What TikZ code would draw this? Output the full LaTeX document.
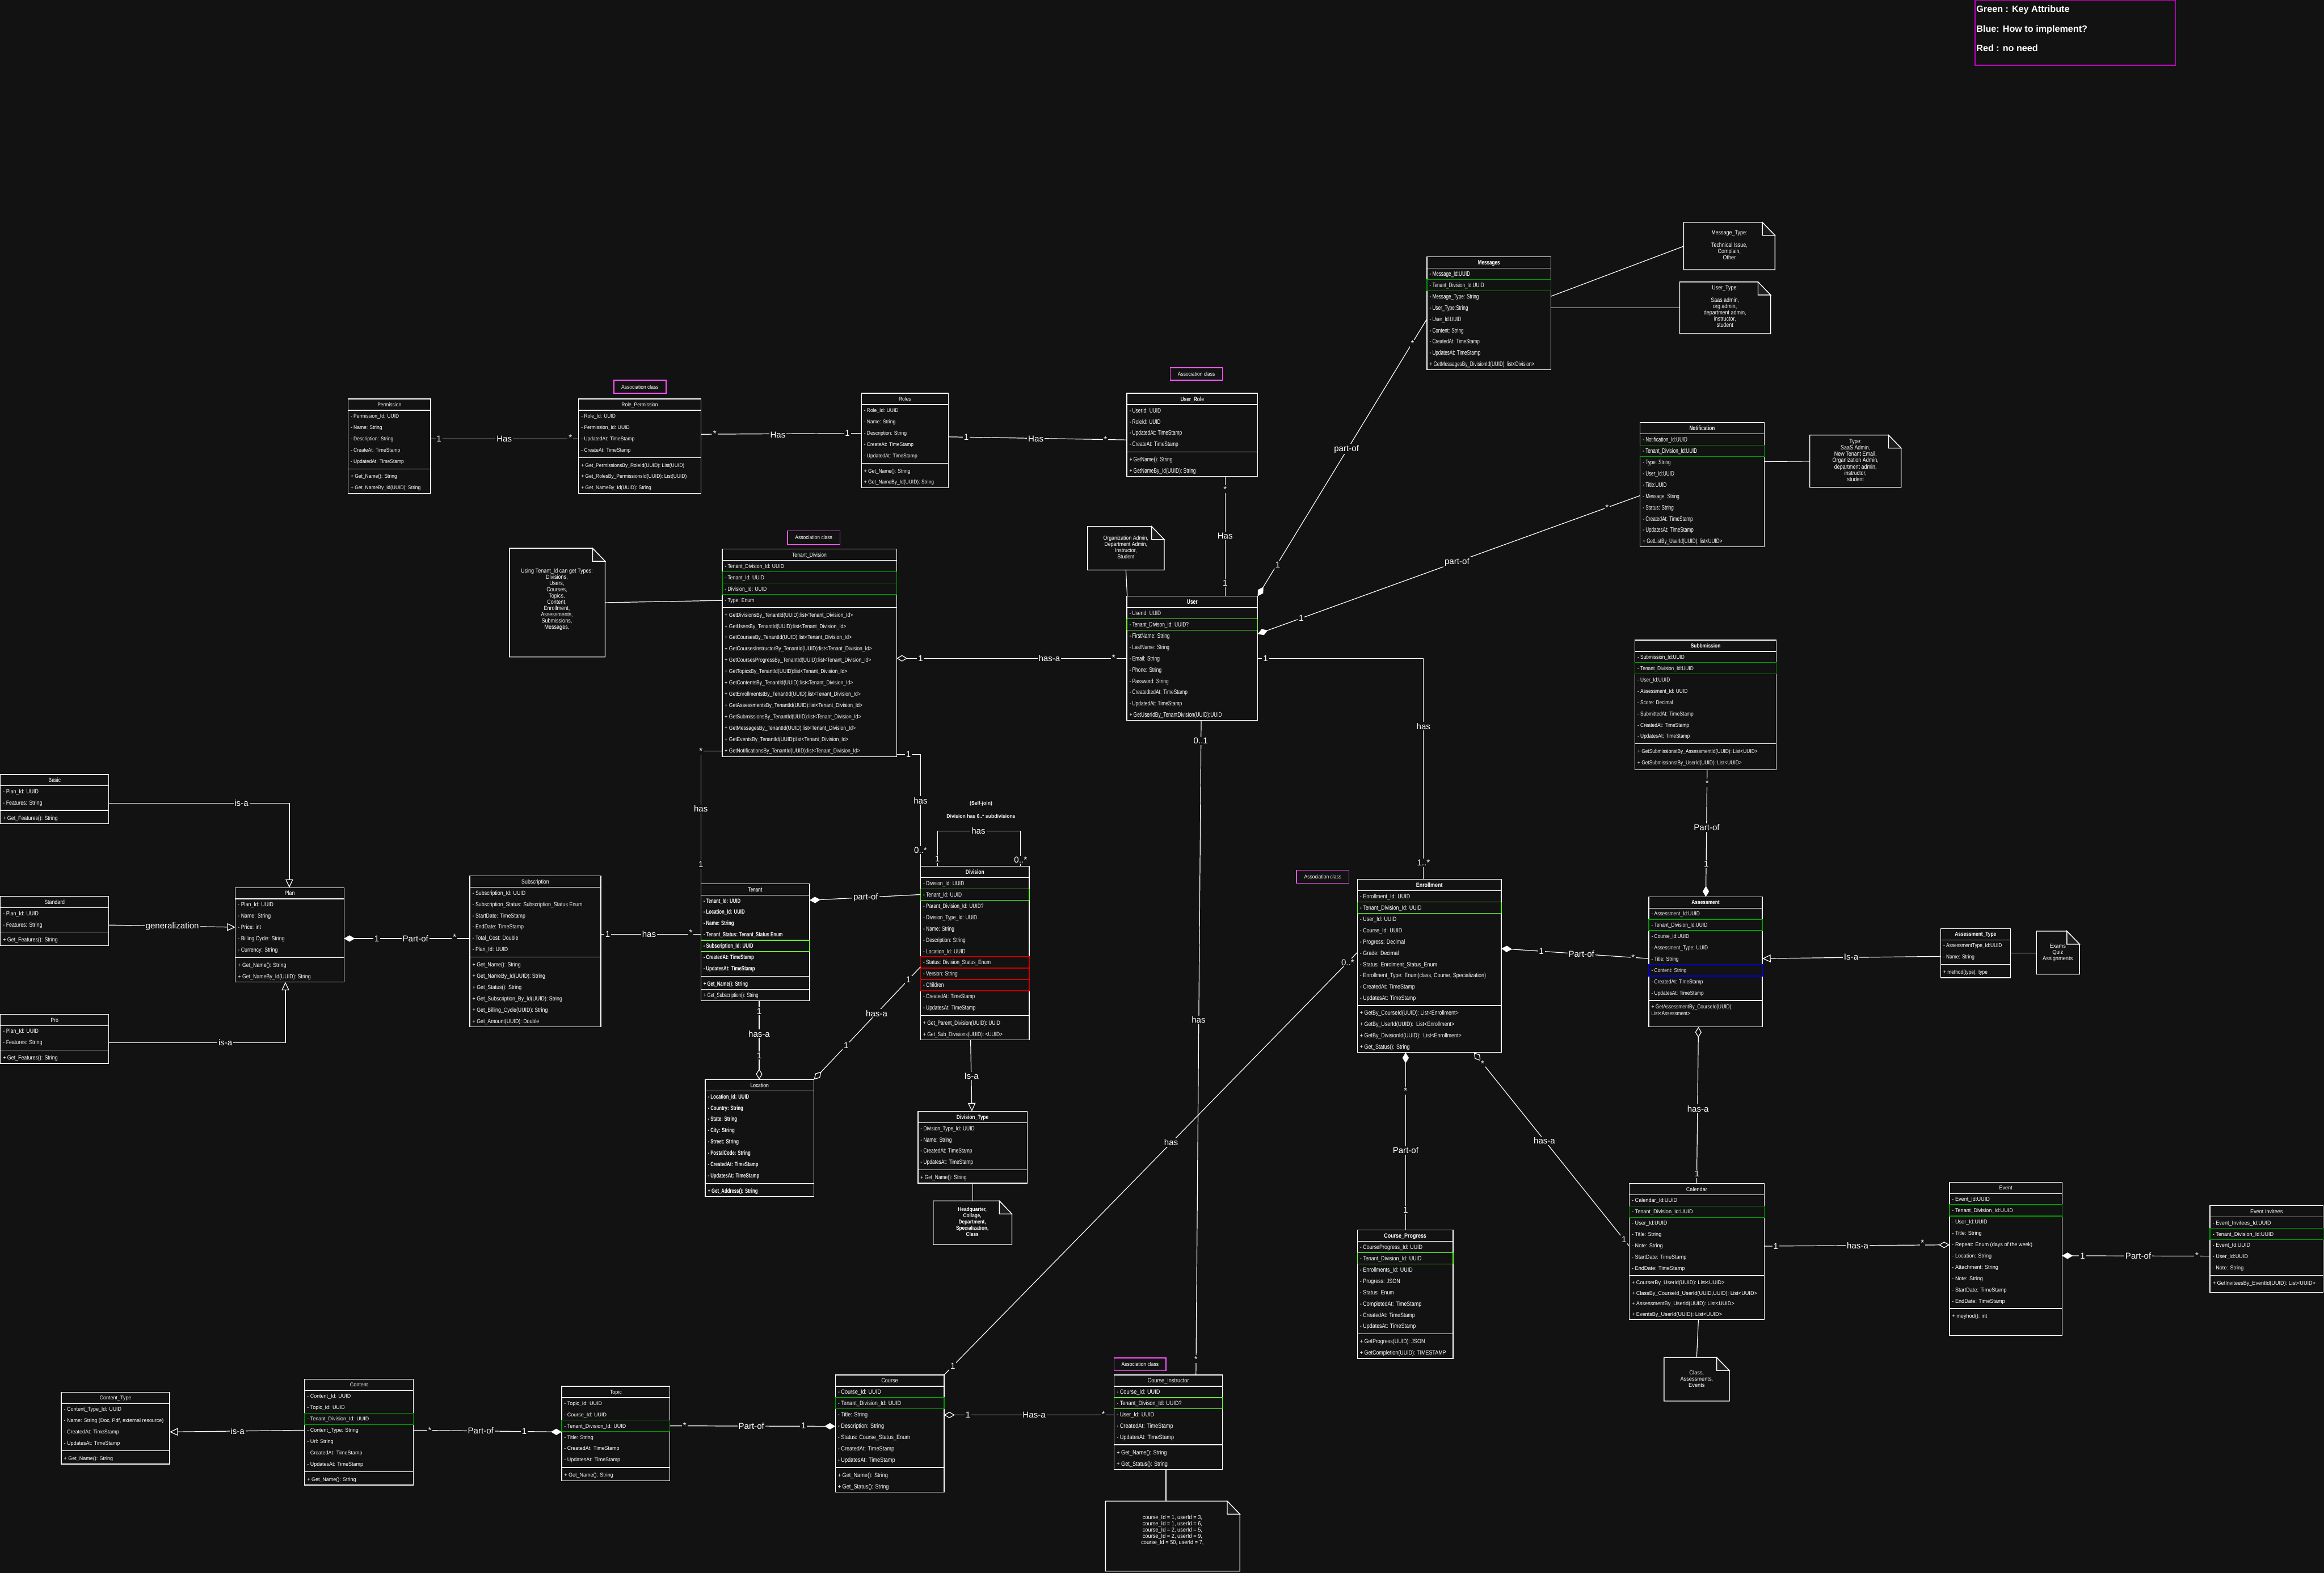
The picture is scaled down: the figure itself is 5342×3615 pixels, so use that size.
\documentclass[tikz,border=0pt]{standalone}
\usepackage{fontspec}
\setmainfont{Liberation Sans}
\usepackage{graphicx}
\usetikzlibrary{arrows.meta}
\definecolor{bg}{HTML}{121212}
\definecolor{grnD}{HTML}{00A000}
\definecolor{grnL}{HTML}{66FF33}
\definecolor{redR}{HTML}{CC0000}
\definecolor{bluB}{HTML}{0000DD}
\definecolor{magA}{HTML}{FF55FF}
\definecolor{magL}{HTML}{CC00CC}
\definecolor{foldc}{HTML}{1E1E1E}
\newcommand\FS{4}
\newcommand\SX{1}
\newcommand\TF{\bfseries}
\newcommand\RF{}
\newcommand\curR{26}
\newcommand\GG{9}
\newcommand\cury{0}
\newcommand\TX[1]{\scalebox{\SX}[1]{\fontsize{\FS pt}{\FS pt}\selectfont #1}}
\newcommand\setc[5]{\gdef\FS{#1}\gdef\SX{#2}\gdef\TF{#3}\gdef\RF{#4}\gdef\GG{#5}}
\tikzset{
  txt/.style={text=white, inner sep=0pt, outer sep=0pt},
  clsbox/.style={draw=white, line width=0.5pt, inner sep=0pt, outer sep=0pt, anchor=north west},
  cline/.style={draw=white, line width=0.5pt},
  hlg/.style={draw=grnD, line width=0.5pt},
  hlh/.style={draw=grnL, line width=0.5pt},
  hlr/.style={draw=redR, line width=0.5pt},
  hlb/.style={draw=bluB, line width=0.5pt},
  cn/.style={draw=white, line width=0.45pt},
  lbl/.style={text=white, fill=bg, inner sep=0.7pt, outer sep=0pt, font=\fontsize{5.6pt}{5.6pt}\selectfont},
  assocbox/.style={draw=magA, line width=0.5pt, inner sep=0pt, outer sep=0pt, text=white},
  comp/.style={arrows={Diamond[length=7pt,width=4.2pt]-}},
  compe/.style={arrows={-Diamond[length=7pt,width=4.2pt]}},
  agg/.style={arrows={Diamond[open,length=7pt,width=4.2pt]-}},
  agge/.style={arrows={-Diamond[open,length=7pt,width=4.2pt]}},
  gen/.style={arrows={-Triangle[open,length=5.4pt,width=5pt]}}
}
\newcommand\cls[8]{%
  \node[clsbox, minimum width={#4*0.01cm}, minimum height={#5*0.01cm}] (#1) at (#2,#3) {};
  \draw[cline] (#2,#3+#6) -- ++(#4,0);
  \node[txt, anchor=base] (#1-t) at ({#2+#4/2}, {#3+#6/2+1.26*\FS}) {\TX{\TF #7}};
  \pgfmathsetmacro\tmpy{#3+#6}\xdef\cury{\tmpy}\gdef\curR{26}%
  \foreach \rk/\rt [count=\ri] in {#8}{%
    \if\rk s%
      \draw[cline] (#2,\cury+\GG/2) -- ++(#4,0);%
      \pgfmathsetmacro\tmpy{\cury+\GG}\xdef\cury{\tmpy}%
    \else\if\rk l%
      \draw[cline] (#2,\cury) -- ++(#4,0);%
    \else\if\rk m%
      \xdef\curR{\rt}%
    \else
      \pgfmathsetmacro\tmpb{\cury+\curR}%
      \if\rk g\draw[hlg] (#2,\cury) rectangle (#2+#4,\tmpb);\fi
      \if\rk h\draw[hlh] (#2,\cury) rectangle (#2+#4,\tmpb);\fi
      \if\rk r\draw[hlr] (#2,\cury) rectangle (#2+#4,\tmpb);\fi
      \if\rk b\draw[hlb] (#2,\cury) rectangle (#2+#4,\tmpb);\fi
      \node[txt, anchor=base west] (#1-\ri) at ({#2+6}, {\cury+\curR/2+1.26*\FS}) {\TX{\RF\rt}};%
      \xdef\cury{\tmpb}%
    \fi\fi\fi
  }%
}
\newcommand\note[5]{%
  \node[inner sep=0pt, outer sep=0pt, minimum width={(#4-#2)*0.01cm}, minimum height={(#5-#3)*0.01cm}, anchor=north west] (#1) at (#2,#3) {};
  \draw[cline] (#2,#3) -- (#4-29,#3) -- (#4,#3+30) -- (#4,#5) -- (#2,#5) -- cycle;
  \draw[cline, fill=foldc] (#4-29,#3) -- (#4-29,#3+30) -- (#4,#3+30) -- cycle;
}
\newcommand\ntext[7]{%
  \node[txt] (#1) at (#2,#3) {\scalebox{#5}[1]{#7\fontsize{#4pt}{4.1pt}\selectfont\begin{tabular}{@{}c@{}}#6\end{tabular}}};
}
\newcommand\assoc[5]{%
  \node[assocbox, minimum width={(#4-#2)*0.01cm}, minimum height={(#5-#3)*0.01cm}] (#1) at ({(#2+#4)/2},{(#3+#5)/2}) {\scalebox{0.88}[1]{\fontsize{3.6pt}{3.6pt}\selectfont Association class}};
}
\newcounter{lbc}
\newcommand\lab[3]{\stepcounter{lbc}\edef\labname{lab\arabic{lbc}}\node[lbl] (\labname) at (#1,#2) {#3};}
\begin{document}
\begin{tikzpicture}[x=0.01cm, y=-0.01cm]
\path[fill=bg, use as bounding box] (0,0) rectangle (5342,3615);

% ---------- legend ----------
\node[draw=magL, line width=0.5pt, inner sep=0pt, outer sep=0pt, minimum width={461*0.01cm}, minimum height={149*0.01cm}, anchor=north west] (legend) at (4540,1) {};
\node[txt, anchor=base west, font=\bfseries\fontsize{6pt}{6pt}\selectfont] (lg1) at (4543,28.5) {Green : Key Attribute};
\node[txt, anchor=base west, font=\bfseries\fontsize{6pt}{6pt}\selectfont] (lg2) at (4543,73.5) {Blue: How to implement?};
\node[txt, anchor=base west, font=\bfseries\fontsize{6pt}{6pt}\selectfont] (lg3) at (4543,118.5) {Red : no need};

% ---------- association class labels ----------
\assoc{as1}{1411}{874}{1531}{904}
\assoc{as2}{2690}{845}{2810}{874}
\assoc{as3}{1810}{1220}{1931}{1251}
\assoc{as4}{2980}{2000}{3101}{2030}
\assoc{as5}{2561}{3121}{2680}{3150}

% ---------- classes ----------
\setc{3.5}{0.9}{\mdseries}{}{9}
\cls{perm}{800}{917}{190}{217}{26}{Permission}{n/{- Permission\_Id: UUID}, n/{- Name: String}, n/{- Description: String}, n/{- CreateAt: TimeStamp}, n/{- UpdatedAt: TimeStamp}, s/x, n/{+ Get\_Name(): String}, n/{+ Get\_NameBy\_Id(UUID): String}}
\cls{rolep}{1330}{917}{281}{217}{26}{Role\_Permission}{n/{- Role\_Id: UUID}, n/{- Permission\_Id: UUID}, n/{- UpdatedAt: TimeStamp}, n/{- CreateAt: TimeStamp}, s/x, n/{+ Get\_PermissionsBy\_RoleId(UUID): List(UUID)}, n/{+ Get\_RolesBy\_PermissionsId(UUID): List(UUID)}, n/{+ Get\_NameBy\_Id(UUID): String}}
\cls{roles}{1980}{904}{200}{217}{26}{Roles}{n/{- Role\_Id: UUID}, n/{- Name: String}, n/{- Description: String}, n/{- CreateAt: TimeStamp}, n/{- UpdatedAt: TimeStamp}, s/x, n/{+ Get\_Name(): String}, n/{+ Get\_NameBy\_Id(UUID): String}}

\setc{4.2}{0.74}{\bfseries}{}{9}
\cls{urole}{2590}{904}{301}{191}{26}{User\_Role}{n/{- UserId: UUID}, n/{- RoleId: UUID}, n/{- UpdatedAt: TimeStamp}, n/{- CreateAt: TimeStamp}, s/x, n/{+ GetName(): String}, n/{+ GetNameBy\_Id(UUID): String}}
\cls{user}{2590}{1370}{301}{286}{26}{User}{n/{- UserId: UUID}, h/{- Tenant\_Divison\_Id: UUID?}, n/{- FirstName: String}, n/{- LastName: String}, n/{- Email: String}, n/{- Phone: String}, n/{- Password: String}, n/{- CreatedtedAt: TimeStamp}, n/{- UpdatedAt: TimeStamp}, n/{+ GetUserIdBy\_TenantDivision(UUID):UUID}}

\setc{4.2}{0.72}{\bfseries}{}{0}
\cls{msg}{3280}{590}{285}{260}{26}{Messages}{n/{- Message\_Id:UUID}, g/{- Tenant\_Division\_Id:UUID}, n/{- Message\_Type: String}, n/{- User\_Type:String}, n/{- User\_Id:UUID}, n/{- Content: String}, n/{- CreatedAt: TimeStamp}, n/{- UpdatesAt: TimeStamp}, n/{+ GetMessagesBy\_DivisionId(UUID): list<Division>}}
\cls{notif}{3770}{971}{285}{286}{26}{Notification}{n/{- Notification\_Id:UUID}, g/{- Tenant\_Division\_Id:UUID}, n/{- Type: String}, n/{- User\_Id:UUID}, n/{- Title:UUID}, n/{- Message: String}, n/{- Status: String}, n/{- CreatedAt: TimeStamp}, n/{- UpdatesAt: TimeStamp}, n/{+ GetListBy\_UserId(UUID): list<UUID>}}

\setc{3.8}{0.84}{\mdseries}{}{8}
\cls{td}{1660}{1262}{401}{477}{26}{Tenant\_Division}{n/{- Tenant\_Division\_Id: UUID}, g/{- Tenant\_Id: UUID}, g/{- Division\_Id: UUID}, n/{- Type: Enum}, s/x, n/{+ GetDivisionsBy\_TenantId(UUID):list<Tenant\_Division\_Id>}, n/{+ GetUsersBy\_TenantId(UUID):list<Tenant\_Division\_Id>}, n/{+ GetCoursesBy\_TenantId(UUID):list<Tenant\_Division\_Id>}, n/{+ GetCoursesInstructorBy\_TenantId(UUID):list<Tenant\_Division\_Id>}, n/{+ GetCoursesProgressBy\_TenantId(UUID):list<Tenant\_Division\_Id>}, n/{+ GetTopicsBy\_TenantId(UUID):list<Tenant\_Division\_Id>}, n/{+ GetContentsBy\_TenantId(UUID):list<Tenant\_Division\_Id>}, n/{+ GetEnrollmentstBy\_TenantId(UUID):list<Tenant\_Division\_Id>}, n/{+ GetAssessmentsBy\_TenantId(UUID):list<Tenant\_Division\_Id>}, n/{+ GetSubmissionsBy\_TenantId(UUID):list<Tenant\_Division\_Id>}, n/{+ GetMessagesBy\_TenantId(UUID):list<Tenant\_Division\_Id>}, n/{+ GetEventsBy\_TenantId(UUID):list<Tenant\_Division\_Id>}, n/{+ GetNotificationsBy\_TenantId(UUID):list<Tenant\_Division\_Id>}}

\setc{3.9}{0.84}{\mdseries}{}{9}
\cls{basic}{1}{1780}{249}{113}{26}{Basic}{n/{- Plan\_Id: UUID}, n/{- Features: String}, s/x, n/{+ Get\_Features(): String}}
\cls{standard}{1}{2060}{249}{113}{26}{Standard}{n/{- Plan\_Id: UUID}, n/{- Features: String}, s/x, n/{+ Get\_Features(): String}}
\cls{pro}{1}{2331}{249}{113}{26}{Pro}{n/{- Plan\_Id: UUID}, n/{- Features: String}, s/x, n/{+ Get\_Features(): String}}
\cls{plan}{541}{2040}{250}{217}{26}{Plan}{n/{- Plan\_Id: UUID}, n/{- Name: String}, n/{- Price: int}, n/{- Billing Cycle: String}, n/{- Currency: String}, s/x, n/{+ Get\_Name(): String}, n/{+ Get\_NameBy\_Id(UUID): String}}
\cls{subs}{1080}{2013}{301}{347}{26}{Subscription}{n/{- Subscription\_Id: UUID}, n/{- Subscription\_Status: Subscription\_Status Enum}, n/{- StartDate: TimeStamp}, n/{- EndDate: TimeStamp}, n/{- Total\_Cost: Double}, n/{- Plan\_Id: UUID}, s/x, n/{+ Get\_Name(): String}, n/{+ Get\_NameBy\_Id(UUID): String}, n/{+ Get\_Status(): String}, n/{+ Get\_Subscription\_By\_Id(UUID): String}, n/{+ Get\_Billing\_Cycle(UUID): String}, n/{+ Get\_Amount(UUID): Double}}

\setc{4}{0.72}{\bfseries}{\bfseries}{9}
\cls{tenant}{1611}{2031}{250}{269}{26}{Tenant}{n/{- Tenant\_Id: UUID}, n/{- Location\_Id: UUID}, n/{- Name: String}, n/{- Tenant\_Status: Tenant\_Status Enum}, h/{- Subscription\_Id: UUID}, n/{- CreatedAt: TimeStamp}, n/{- UpdatesAt: TimeStamp}, s/x, n/{+ Get\_Name(): String}, l/x, n/{\mdseries + Get\_Subscription(): String}}
\cls{location}{1621}{2481}{250}{269}{26}{Location}{n/{- Location\_Id: UUID}, n/{- Country: String}, n/{- State: String}, n/{- City: String}, n/{- Street: String}, n/{- PostalCode: String}, n/{- CreatedAt: TimeStamp}, n/{- UpdatesAt: TimeStamp}, s/x, n/{+ Get\_Address(): String}}

\setc{4}{0.78}{\bfseries}{}{9}
\cls{division}{2116}{1991}{250}{399}{26}{Division}{n/{- Division\_Id: UUID}, h/{- Tenant\_Id: UUID}, n/{- Parant\_Division\_Id: UUID?}, n/{- Division\_Type\_Id: UUID}, n/{- Name: String}, n/{- Description: String}, n/{- Location\_Id: UUID}, r/{- Status: Division\_Status\_Enum}, r/{- Version: String}, r/{- Children}, n/{- CreatedAt: TimeStamp}, n/{- UpdatesAt: TimeStamp}, s/x, n/{+ Get\_Parent\_Division(UUID): UUID}, n/{+ Get\_Sub\_Divisions(UUID): <UUID>}}
\cls{divtype}{2110}{2554}{251}{165}{26}{Division\_Type}{n/{- Division\_Type\_Id: UUID}, n/{- Name: String}, n/{- CreatedAt: TimeStamp}, n/{- UpdatesAt: TimeStamp}, s/x, n/{+ Get\_Name(): String}}

\setc{4}{0.83}{\bfseries}{}{8}
\cls{enroll}{3120}{2021}{331}{398}{26}{Enrollment}{n/{- Enrollment\_Id: UUID}, h/{- Tenant\_Division\_Id: UUID}, n/{- User\_Id: UUID}, n/{- Course\_Id: UUID}, n/{- Progress: Decimal}, n/{- Grade: Decimal}, n/{- Status: Enrolment\_Status\_Enum}, n/{- Enrollment\_Type: Enum(class, Course, Specialization)}, n/{- CreatedAt: TimeStamp}, n/{- UpdatesAt: TimeStamp}, s/x, n/{+ GetBy\_CourseId(UUID): List<Enrollment>}, n/{+ GetBy\_UserId(UUID):~ List<Enrollment>}, n/{+ GetBy\_DivisionId(UUID):~ List<Enrollment>}, n/{+ Get\_Status(): String}}
\setc{4}{0.83}{\bfseries}{}{9}
\cls{cprog}{3120}{2827}{220}{295}{26}{Course\_Progress}{n/{- CourseProgress\_Id: UUID}, h/{- Tenant\_Division\_Id: UUID}, n/{- Enrollments\_Id: UUID}, n/{- Progress: JSON}, n/{- Status: Enum}, n/{- CompletedAt: TimeStamp}, n/{- CreatedAt: TimeStamp}, n/{- UpdatesAt: TimeStamp}, s/x, n/{+ GetProgress(UUID): JSON}, n/{+ GetCompletion(UUID): TIMESTAMP}}

\setc{3.7}{0.84}{\bfseries}{}{9}
\cls{subm}{3758}{1471}{325}{298}{26}{Subbmission}{n/{- Submission\_Id:UUID}, g/{- Tenant\_Division\_Id:UUID}, n/{- User\_Id:UUID}, n/{- Assessment\_Id: UUID}, n/{- Score: Decimal}, n/{- SubmittedAt: TimeStamp}, n/{- CreatedAt: TimeStamp}, n/{- UpdatesAt: TimeStamp}, s/x, n/{+ GetSubmissionstBy\_AssessmentId(UUID): List<UUID>}, n/{+ GetSubmissionstBy\_UserId(UUID): List<UUID>}}
\cls{assess}{3790}{2061}{261}{299}{26}{Assessment}{n/{- Assessment\_Id:UUID}, g/{- Tenant\_Division\_Id:UUID}, n/{- Course\_Id:UUID}, n/{- Assessment\_Type: UUID}, n/{- Title: String}, b/{- Content: String}, n/{- CreatedAt: TimeStamp}, n/{- UpdatesAt: TimeStamp}, s/x, m/18, n/{+ GetAssessmentBy\_CourseId(UUID):}, m/14, n/{List<Assessment>}}
\cls{atype}{4461}{2134}{160}{113}{26}{Assessment\_Type}{n/{- AssessmentType\_Id:UUID}, n/{- Name: String}, s/x, n/{+ method(type): type}}

\setc{3.6}{0.94}{\mdseries}{}{8}
\cls{calendar}{3745}{2720}{310}{312}{26}{Calendar}{n/{- Calendar\_Id:UUID}, g/{- Tenant\_Division\_Id:UUID}, n/{- User\_Id:UUID}, n/{- Title: String}, n/{- Note: String}, n/{- StartDate: TimeStamp}, n/{- EndDate: TimeStamp}, s/x, m/24, n/{+ CourserBy\_UserId(UUID): List<UUID>}, n/{+ ClassBy\_CourseId\_UserId(UUID,UUID): List<UUID>}, n/{+ AssessmentBy\_UserId(UUID): List<UUID>}, n/{+ EventsBy\_UserId(UUID): List<UUID>}}
\setc{3.6}{0.94}{\mdseries}{}{9}
\cls{event}{4481}{2717}{259}{352}{26}{Event}{n/{- Event\_Id:UUID}, g/{- Tenant\_Division\_Id:UUID}, n/{- User\_Id:UUID}, n/{- Title: String}, n/{- Repeat: Enum (days of the week)}, n/{- Location: String}, n/{- Attachment: String}, n/{- Note: String}, n/{- StartDate: TimeStamp}, n/{- EndDate: TimeStamp}, s/x, n/{+ meyhod(): int}}
\cls{invit}{5080}{2771}{260}{199}{26}{Event Invitees}{n/{- Event\_Invitees\_Id:UUID}, g/{- Tenant\_Division\_Id:UUID}, n/{- Event\_Id:UUID}, n/{- User\_Id:UUID}, n/{- Note: String}, s/x, n/{+ GetInviteesBy\_EventId(UUID): List<UUID>}}

\setc{3.5}{0.95}{\mdseries}{}{9}
\cls{ctype}{141}{3200}{249}{165}{26}{Content\_Type}{n/{- Content\_Type\_Id: UUID}, n/{- Name: String (Doc, Pdf, external resource)}, n/{- CreatedAt: TimeStamp}, n/{- UpdatesAt: TimeStamp}, s/x, n/{+ Get\_Name(): String}}
\cls{content}{700}{3170}{250}{243}{26}{Content}{n/{- Content\_Id: UUID}, n/{- Topic\_Id: UUID}, g/{- Tenant\_Division\_Id: UUID}, n/{- Content\_Type: String}, n/{- Url: String}, n/{- CreatedAt: TimeStamp}, n/{- UpdatesAt: TimeStamp}, s/x, n/{+ Get\_Name(): String}}
\cls{topic}{1291}{3186}{249}{217}{26}{Topic}{n/{- Topic\_Id: UUID}, n/{- Course\_Id: UUID}, g/{- Tenant\_Division\_Id: UUID}, n/{- Title: String}, n/{- CreatedAt: TimeStamp}, n/{- UpdatesAt: TimeStamp}, s/x, n/{+ Get\_Name(): String}}

\setc{4}{0.85}{\mdseries}{}{9}
\cls{course}{1920}{3160}{250}{269}{26}{Course}{n/{- Course\_Id: UUID}, g/{- Tenant\_Division\_Id: UUID}, n/{- Title: String}, n/{- Description: String}, n/{- Status: Course\_Status\_Enum}, n/{- CreatedAt: TimeStamp}, n/{- UpdatesAt: TimeStamp}, s/x, n/{+ Get\_Name(): String}, n/{+ Get\_Status(): String}}
\cls{ci}{2561}{3160}{249}{217}{26}{Course\_Instructor}{n/{- Course\_Id: UUID}, h/{- Tenant\_Divison\_Id: UUID?}, n/{- User\_Id: UUID}, n/{- CreatedAt: TimeStamp}, n/{- UpdatesAt: TimeStamp}, s/x, n/{+ Get\_Name(): String}, n/{+ Get\_Status(): String}}

% ---------- notes ----------
\note{n1}{3870}{511}{4080}{620}
\note{n2}{3861}{648}{4070}{767}
\note{n3}{4160}{1000}{4370}{1120}
\note{n4}{2500}{1210}{2676}{1310}
\note{n5}{1171}{1260}{1391}{1510}
\note{n6}{2145}{2760}{2326}{2860}
\note{n7}{4681}{2140}{4780}{2239}
\note{n8}{3825}{3120}{3975}{3220}
\note{n9}{2541}{3450}{2850}{3611}
\ntext{nt1}{3975}{565}{4}{0.83}{Message\_Type:\\~\\Technical Issue,\\Complain,\\Other}{}
\ntext{nt2}{3965}{706}{4}{0.83}{User\_Type:\\~\\Saas admin,\\org admin,\\department admin,\\instructor,\\student}{}
\ntext{nt3}{4265}{1060}{4}{0.83}{Type:\\SaaS Admin,\\New Tenant Email,\\Organization Admin,\\department admin,\\instructor,\\student}{}
\ntext{nt4}{2588}{1260}{3.7}{0.88}{Organization Admin,\\Department Admin,\\Instructor,\\Student}{}
\ntext{nt5}{1280}{1378}{3.9}{0.86}{Using Tenant\_Id can get Types:\\Divisions,\\Users,\\Courses,\\Topics,\\Content,\\Enrollment,\\Assessments,\\Submissions,\\Messages,}{}
\ntext{nt6}{2235}{2810}{3.6}{0.85}{Headquarter,\\Collage,\\Department,\\Specialization,\\Class}{\bfseries}
\ntext{nt7}{4730}{2190}{3.7}{0.93}{Exams\\Quiz\\Assignments}{}
\ntext{nt8}{3900}{3171}{3.7}{0.93}{Class,\\Assessments,\\Events}{}
\ntext{nt9}{2695}{3518}{3.8}{0.9}{course\_Id = 1, userId = 3,\\course\_Id = 1, userId = 6,\\course\_Id = 2, userId = 5,\\course\_Id = 2, userId = 9,\\course\_Id = 50, userId = 7,}{}

% self-join text
\node[txt, font=\bfseries\fontsize{3.2pt}{3.2pt}\selectfont] (sj1) at (2255,1847) {(Self-join)};
\node[txt, font=\bfseries\fontsize{3.2pt}{3.2pt}\selectfont] (sj2) at (2255,1876) {Division has 0..* subdivisions};

% ---------- note connectors ----------
\draw[cn] (msg.east |- 0,681) -- (n1.west |- 0,566);
\draw[cn] (msg.east |- 0,708) -- (n2.west |- 0,708);
\draw[cn] (notif.east |- 0,1061) -- (n3.west |- 0,1060);
\draw[cn] (n4.south -| 2588,0) -- (user.north -| 2591,0);
\draw[cn] (n5.east |- 0,1385) -- (td.west |- 0,1380);
\draw[cn] (divtype.south -| 2236,0) -- (n6.north -| 2236,0);
\draw[cn] (atype.east |- 0,2190) -- (n7.west |- 0,2190);
\draw[cn] (calendar.south -| 3904,0) -- (n8.north -| 3900,0);
\draw[cn] (ci.south -| 2680,0) -- (n9.north -| 2680,0);

% ---------- connectors ----------
\draw[cn] (perm.east |- 0,1009) -- (rolep.west |- 0,1009);
\draw[cn] (rolep.east |- 0,998) -- (roles.west |- 0,996);
\draw[cn] (roles.east |- 0,1004) -- (urole.west |- 0,1011);
\draw[cn] (urole.south -| 2816,0) -- (user.north -| 2816,0);
\draw[cn, comp] (user.north east) -- (msg.west |- 0,733);
\draw[cn, comp] (user.east |- 0,1457) -- (notif.west |- 0,1139);
\draw[cn] (user.east |- 0,1513) -| (enroll.north -| 3272,0);
\draw[cn, agg] (td.east |- 0,1513) -- (user.west |- 0,1513);
\draw[cn] (td.west |- 0,1726) -| (tenant.north west);
\draw[cn] (td.east |- 0,1734) -| (division.north west);
\draw[cn] (subs.east |- 0,2147) -- (tenant.west |- 0,2147);
\draw[cn, comp] (tenant.east |- 0,2069) -- (division.west |- 0,2056);
\draw[cn] (division.north -| 2155,0) -- (2155,1910) -| (division.north -| 2346,0);
\draw[cn, agge] (tenant.south -| 1745,0) -- (location.north -| 1745,0);
\draw[cn, agge] (division.west |- 0,2222) -- (location.north east);
\draw[cn, gen] (division.south -| 2231,0) -- (divtype.north -| 2234,0);
\draw[cn, gen] (basic.east |- 0,1846) -| (plan.north -| 665,0);
\draw[cn, gen] (standard.east |- 0,2126) -- (plan.west |- 0,2131);
\draw[cn, gen] (pro.east |- 0,2396) -| (plan.south -| 656,0);
\draw[cn, comp] (plan.east |- 0,2157) -- (subs.west |- 0,2157);
\draw[cn] (user.south -| 2761,0) -- (ci.north -| 2749,0);
\draw[cn, compe] (subm.south -| 3924,0) -- (assess.north -| 3921,0);
\draw[cn, gen] (atype.west |- 0,2198) -- (assess.east |- 0,2203);
\draw[cn, comp] (enroll.east |- 0,2180) -- (assess.west |- 0,2203);
\draw[cn, comp] (enroll.south -| 3231,0) -- (cprog.north -| 3231,0);
\draw[cn, agg] (enroll.south -| 3388,0) -- (calendar.west |- 0,2864);
\draw[cn, agge] (calendar.north -| 3900,0) -- (assess.south -| 3904,0);
\draw[cn, agge] (calendar.east |- 0,2864) -- (event.west |- 0,2861);
\draw[cn, comp] (event.east |- 0,2886) -- (invit.west |- 0,2887);
\draw[cn, gen] (content.west |- 0,3287) -- (ctype.east |- 0,3291);
\draw[cn, compe] (content.east |- 0,3287) -- (topic.west |- 0,3291);
\draw[cn, compe] (topic.east |- 0,3277) -- (course.west |- 0,3278);
\draw[cn] (course.north east) -- (enroll.west |- 0,2189);
\draw[cn, agg] (course.east |- 0,3252) -- (ci.west |- 0,3252);

% ---------- connector labels ----------
\lab{1009}{1009}{1}\lab{1159}{1009}{Has}\lab{1311}{1006}{*}
\lab{1643}{997}{*}\lab{1788}{999}{Has}\lab{1948}{996}{1}
\lab{2221}{1005}{1}\lab{2381}{1008}{Has}\lab{2541}{1010}{*}
\lab{2816}{1124}{*}\lab{2816}{1232}{Has}\lab{2816}{1340}{1}
\lab{2937}{1298}{1}\lab{3095}{1032}{part-of}\lab{3247}{790}{*}
\lab{2991}{1421}{1}\lab{3349}{1292}{part-of}\lab{3694}{1166}{*}
\lab{2909}{1513}{1}\lab{3272}{1669}{has}\lab{3272}{1983}{1..*}
\lab{2116}{1513}{1}\lab{2412}{1513}{has-a}\lab{2560}{1512}{*}
\lab{1611}{1726}{*}\lab{1611}{1859}{has}\lab{1611}{1987}{1}
\lab{2088}{1734}{1}\lab{2116}{1840}{has}\lab{2116}{1954}{0..*}
\lab{1397}{2147}{1}\lab{1492}{2147}{has}\lab{1588}{2143}{*}
\lab{1990}{2063}{part-of}
\lab{2249}{1910}{has}\lab{2155}{1974}{1}\lab{2346}{1976}{0..*}
\lab{1745}{2324}{1}\lab{1745}{2376}{has-a}\lab{1745}{2426}{1}
\lab{2088}{2252}{1}\lab{2015}{2329}{has-a}\lab{1945}{2403}{1}
\lab{2233}{2473}{Is-a}
\lab{555}{1846}{is-a}
\lab{396}{2129}{generalization}
\lab{518}{2396}{is-a}
\lab{866}{2157}{1}\lab{955}{2157}{Part-of}\lab{1045}{2154}{*}
\lab{2760}{1703}{0..1}\lab{2755}{2344}{has}\lab{2749}{3124}{*}
\lab{3924}{1800}{*}\lab{3923}{1902}{Part-of}\lab{3922}{1986}{1}
\lab{4255}{2200}{Is-a}
\lab{3543}{2186}{1}\lab{3635}{2192}{Part-of}\lab{3754}{2200}{*}
\lab{3231}{2507}{*}\lab{3231}{2644}{Part-of}\lab{3231}{2781}{1}
\lab{3408}{2444}{*}\lab{3550}{2622}{has-a}\lab{3733}{2849}{1}
\lab{3901}{2698}{1}\lab{3903}{2548}{has-a}
\lab{4082}{2864}{1}\lab{4270}{2863}{has-a}\lab{4419}{2856}{*}
\lab{4787}{2886}{1}\lab{4915}{2886}{Part-of}\lab{5050}{2885}{*}
\lab{546}{3289}{is-a}
\lab{988}{3287}{*}\lab{1105}{3288}{Part-of}\lab{1205}{3290}{1}
\lab{1574}{3277}{*}\lab{1727}{3277}{Part-of}\lab{1847}{3277}{1}
\lab{2190}{3140}{1}\lab{2692}{2626}{has}\lab{3098}{2212}{0..*}
\lab{2225}{3252}{1}\lab{2377}{3252}{Has-a}\lab{2536}{3250}{*}
\end{tikzpicture}
\end{document}
